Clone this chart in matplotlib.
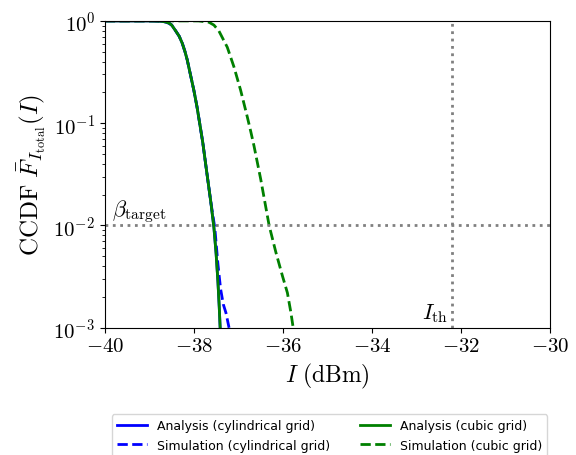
import matplotlib
matplotlib.use("Agg")
import matplotlib.pyplot as plt

plt.rcParams['mathtext.fontset'] = 'cm'
plt.rcParams['font.family'] = 'serif'
plt.rcParams['font.serif'] = ['cmr10']
plt.rcParams['axes.formatter.use_mathtext'] = True

# analysis curves (cylindrical and cubic grids nearly coincide)
ana_x = [-40, -39.0, -38.9, -38.8, -38.7, -38.63, -38.56, -38.5, -38.41, -38.33, -38.26,
         -38.2, -38.15, -38.08, -38.0, -37.93, -37.87, -37.8, -37.72, -37.62,
         -37.55, -37.5, -37.46, -37.43, -37.41]
ana_y = [1.0, 1.0, 0.999, 0.996, 0.988, 0.975, 0.95, 0.912, 0.80, 0.708, 0.603,
         0.501, 0.417, 0.302, 0.209, 0.1445, 0.1, 0.0646, 0.0355, 0.017,
         0.00955, 0.00525, 0.00282, 0.00158, 0.001]

sim_cyl_x = ana_x[:20] + [-37.53, -37.46, -37.40, -37.34, -37.28, -37.21]
sim_cyl_y = ana_y[:20] + [0.0095, 0.0042, 0.0024, 0.0017, 0.0014, 0.001]

sim_cub_x = [-40, -38.0, -37.89, -37.66, -37.55, -37.44, -37.25, -37.10, -36.95, -36.80,
             -36.72, -36.65, -36.50, -36.31, -36.16, -36.01, -35.90, -35.82, -35.77]
sim_cub_y = [1.0, 1.0, 0.999, 0.97, 0.91, 0.80, 0.553, 0.355, 0.21, 0.115,
             0.082, 0.060, 0.0285, 0.01, 0.0055, 0.0032, 0.0022, 0.0014, 0.001]

beta_target = 1e-2
i_th = -32.2
xticks = [-40, -38, -36, -34, -32, -30]

fig = plt.figure(figsize=(5.76, 4.56), dpi=100)
ax = fig.add_axes([0.182, 0.279, 0.773, 0.673])

ax.plot(ana_x, ana_y, color='blue', lw=2, label='Analysis (cylindrical grid)')
ax.plot(sim_cyl_x, sim_cyl_y, color='blue', lw=2, ls='--', label='Simulation (cylindrical grid)')
ax.plot(ana_x, ana_y, color='green', lw=2, label='Analysis (cubic grid)')
ax.plot(sim_cub_x, sim_cub_y, color='green', lw=2, ls='--', label='Simulation (cubic grid)')

ax.axhline(beta_target, color='gray', ls=':', lw=2)
ax.axvline(i_th, color='gray', ls=':', lw=2)

ax.text(-39.85, 1.25e-2, r'$\beta_{\mathrm{target}}$', fontsize=16)
ax.text(i_th - 0.1, 1.25e-3, r'$I_{\mathrm{th}}$', fontsize=16, ha='right')

ax.set_yscale('log')
ax.set_xlim(-40, -30)
ax.set_ylim(1e-3, 1)
ax.set_xticks(xticks)
ax.set_xticklabels([r'$%d$' % v for v in xticks])
ax.tick_params(labelsize=15)
ax.set_xlabel(r'$I\ (\mathrm{dBm})$', fontsize=17)
ax.set_ylabel(r'$\mathrm{CCDF}\ \bar{F}_{I_{\mathrm{total}}}(I)$', fontsize=18)

h, l = ax.get_legend_handles_labels()
fig.legend(h, l, loc='upper center', bbox_to_anchor=(0.572, 0.103), ncol=2,
           prop={'family': 'DejaVu Sans', 'size': 9},
           handlelength=2.4, columnspacing=2.4)

fig.savefig('out.png', dpi=100)
